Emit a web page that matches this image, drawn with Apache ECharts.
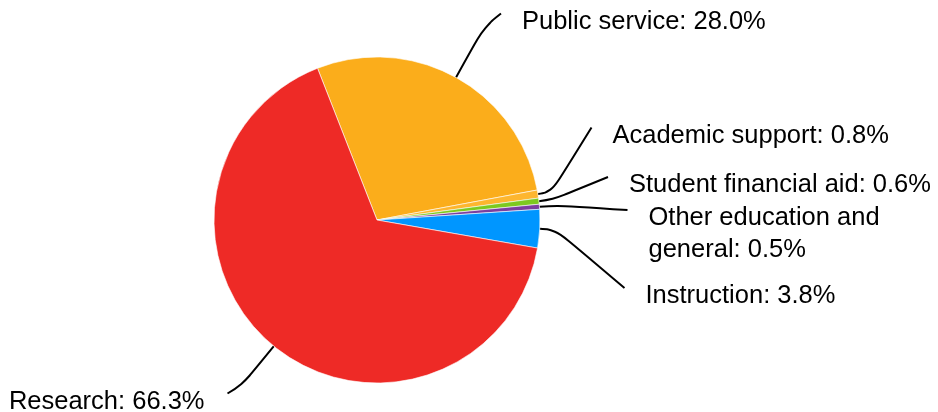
<!DOCTYPE html>
<html><head><meta charset="utf-8">
<script src="https://cdn.jsdelivr.net/npm/echarts@6/dist/echarts.min.js"></script>
<style>html,body{margin:0;padding:0;background:#fff}#c{width:938px;height:412px}</style>
</head><body><div id="c"></div>
<script>
// ---- data ----
const categories = ['Public service', 'Academic support', 'Student financial aid', 'Other education and general', 'Instruction', 'Research'];
const shares = [28.0, 0.8, 0.6, 0.5, 3.8, 66.3];
const displayNames = ['Public service', 'Academic support', 'Student financial aid', 'Other education and\ngeneral', 'Instruction', 'Research'];
const colors = ['#FBAD1B', '#FDB62F', '#7DC91F', '#7B3F9F', '#0096FF', '#EE2A26'];

// ---- label placement (text anchors) ----
const LH = 32;
const spots = [
  { x: 522, y: 21.5, align: 'left', lines: 1, reach: 58 },
  { x: 612.5, y: 135.5, align: 'left', lines: 1, reach: 14 },
  { x: 629, y: 185, align: 'left', lines: 1, reach: 14 },
  { x: 648.5, y: 234, align: 'left', lines: 2, reach: 18 },
  { x: 645.5, y: 296, align: 'left', lines: 1, reach: 16 },
  { x: 204.5, y: 401.5, align: 'right', lines: 1, reach: 50 }
];

const chart = echarts.init(document.getElementById('c'), null, { renderer: 'canvas' });
chart.setOption({
  animation: false,
  backgroundColor: '#fff',
  series: [{
    type: 'pie',
    center: [377, 220],
    radius: 163,
    startAngle: 111.4,
    clockwise: true,
    avoidLabelOverlap: false,
    data: categories.map((c, i) => ({ name: c, value: shares[i], itemStyle: { color: colors[i] } })),
    itemStyle: { borderColor: '#fff', borderWidth: 0.6 },
    label: {
      show: true,
      position: 'outside',
      fontFamily: 'Liberation Sans, Arial, sans-serif',
      fontSize: 25.5,
      lineHeight: LH,
      color: '#000',
      formatter: p => displayNames[p.dataIndex] + ': ' + shares[p.dataIndex].toFixed(1) + '%'
    },
    labelLine: {
      show: true,
      length: 20,
      length2: 10,
      smooth: 0.45,
      lineStyle: { color: '#000', width: 2 }
    },
    labelLayout: function (p) {
      const s = spots[p.dataIndex];
      const pts = p.labelLinePoints;
      const S = pts[0];
      let dx = pts[1][0] - S[0], dy = pts[1][1] - S[1];
      const len = Math.hypot(dx, dy) || 1;
      dx /= len; dy /= len;
      const A = [S[0] + dx * s.reach, S[1] + dy * s.reach];
      const firstY = s.y - (s.lines - 1) * LH / 2;
      const E = [s.align === 'left' ? s.x - 21 : s.x + 23, firstY - 8];
      return {
        x: s.x, y: s.y, align: s.align, verticalAlign: 'middle',
        labelLinePoints: [S, A, E]
      };
    }
  }]
});
</script>
</body></html>
